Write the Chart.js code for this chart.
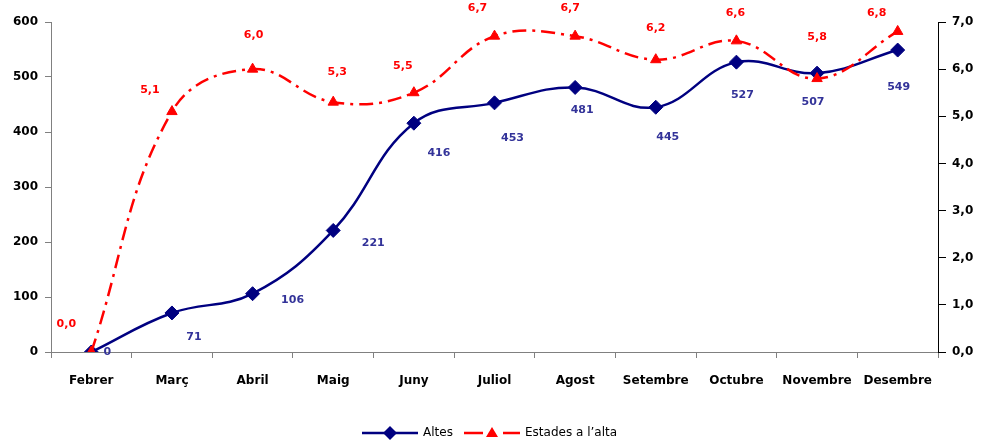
<!DOCTYPE html>
<html>
<head>
<meta charset="utf-8">
<script src="https://cdn.jsdelivr.net/npm/chart.js@4"></script>
<style>
    html, body { margin: 0; padding: 0; background: #fff; }
    canvas { display: block; }
</style>
</head>
<body>
<canvas id="altesChart" width="987" height="444"></canvas>
<script>
// Chart data
const months = ['Febrer', 'Març', 'Abril', 'Maig', 'Juny', 'Juliol', 'Agost', 'Setembre', 'Octubre', 'Novembre', 'Desembre'];
const altes = [0, 71, 106, 221, 416, 453, 481, 445, 527, 507, 549];
const estades = [0.0, 5.1, 6.0, 5.3, 5.5, 6.7, 6.7, 6.2, 6.6, 5.8, 6.8];

// Label nudges relative to each point (px), as placed in the original
const altesLabelOffsets = [[16, 0], [22, 24], [40, 6], [40, 13], [25, 30], [18, 35], [7, 23], [12, 30], [6, 33], [-4, 29], [1, 37]];
const estadesLabelOffsets = [[-25, -28], [-22, -21], [1, -34], [4, -30], [-11, -27], [-17, -28], [-5, -28], [0, -32], [-1, -28], [0, -41], [-21, -18]];

const NAVY = '#000080';
const RED = '#ff0000';
const FONT = "'DejaVu Sans', Verdana, sans-serif";

const commaFmt = v => Number(v).toFixed(1).replace('.', ',');

// Draws the value labels next to each point
const valueLabels = {
    id: 'valueLabels',
    afterDatasetsDraw(chart) {
        const ctx = chart.ctx;
        ctx.save();
        ctx.font = 'bold 11px ' + FONT;
        ctx.textAlign = 'center';
        ctx.textBaseline = 'middle';
        chart.data.datasets.forEach((ds, di) => {
            const meta = chart.getDatasetMeta(di);
            const offsets = ds.labelOffsets;
            ctx.fillStyle = ds.labelColor;
            meta.data.forEach((pt, i) => {
                const o = offsets[i] || [0, 0];
                ctx.fillText(ds.labelFormat(ds.data[i]), pt.x + o[0], pt.y + o[1]);
            });
        });
        ctx.restore();
    }
};

// Excel-like legend at the bottom
const bottomLegend = {
    id: 'bottomLegend',
    afterDraw(chart) {
        const ctx = chart.ctx;
        const y = 433;
        ctx.save();
        ctx.lineWidth = 2.5;

        ctx.strokeStyle = NAVY;
        ctx.beginPath();
        ctx.moveTo(362, y);
        ctx.lineTo(418, y);
        ctx.stroke();
        ctx.fillStyle = NAVY;
        ctx.beginPath();
        ctx.moveTo(390, y - 7); ctx.lineTo(397, y); ctx.lineTo(390, y + 7); ctx.lineTo(383, y);
        ctx.closePath();
        ctx.fill();

        ctx.strokeStyle = RED;
        ctx.beginPath();
        ctx.moveTo(464, y); ctx.lineTo(483, y);
        ctx.moveTo(503, y); ctx.lineTo(520, y);
        ctx.stroke();
        ctx.fillStyle = RED;
        ctx.beginPath();
        ctx.moveTo(492, y - 6); ctx.lineTo(498, y + 4); ctx.lineTo(486, y + 4);
        ctx.closePath();
        ctx.fill();

        ctx.fillStyle = '#000';
        ctx.font = '12px ' + FONT;
        ctx.textAlign = 'left';
        ctx.textBaseline = 'middle';
        ctx.fillText(chart.data.datasets[0].label, 423, y);
        ctx.fillText(chart.data.datasets[1].label, 525, y);
        ctx.restore();
    }
};

new Chart(document.getElementById('altesChart').getContext('2d'), {
    type: 'line',
    data: {
        labels: months,
        datasets: [
            {
                label: 'Altes',
                data: altes,
                yAxisID: 'y',
                order: 1,
                borderColor: NAVY,
                backgroundColor: NAVY,
                borderWidth: 2.5,
                tension: 0.4,
                pointStyle: 'rectRot',
                pointRadius: 7,
                pointBorderWidth: 1,
                pointBorderColor: NAVY,
                labelColor: '#333399',
                labelOffsets: altesLabelOffsets,
                labelFormat: v => String(v)
            },
            {
                label: 'Estades a l\u2019alta',
                data: estades,
                yAxisID: 'y1',
                order: 0,
                borderColor: RED,
                backgroundColor: RED,
                borderWidth: 2.5,
                borderDash: [14, 6, 3, 6],
                tension: 0.4,
                pointStyle: 'triangle',
                pointRadius: 6,
                pointBorderWidth: 1,
                pointBorderColor: RED,
                labelColor: RED,
                labelOffsets: estadesLabelOffsets,
                labelFormat: commaFmt
            }
        ]
    },
    options: {
        responsive: false,
        animation: false,
        devicePixelRatio: 1,
        layout: { padding: { top: 22, left: 0, right: 0, bottom: 0 } },
        plugins: {
            legend: { display: false },
            tooltip: { enabled: false }
        },
        scales: {
            x: {
                offset: true,
                grid: { display: true, drawOnChartArea: false, offset: true, tickLength: 6, color: '#808080' },
                border: { color: '#808080', width: 1 },
                ticks: { color: '#000', padding: 16, maxRotation: 0, autoSkip: false, font: { family: FONT, size: 12, weight: 'bold' } },
                afterFit: s => { s.height = 92; }
            },
            y: {
                position: 'left',
                min: 0,
                max: 600,
                ticks: { stepSize: 100, color: '#000', padding: 7, font: { family: FONT, size: 12, weight: 'bold' } },
                grid: { display: true, drawOnChartArea: false, tickLength: 6, color: '#808080' },
                border: { color: '#808080', width: 1 },
                afterFit: s => { s.width = 51; }
            },
            y1: {
                position: 'right',
                min: 0,
                max: 7,
                ticks: { stepSize: 1, color: '#000', padding: 6, callback: v => commaFmt(v), font: { family: FONT, size: 12, weight: 'bold' } },
                grid: { display: true, drawOnChartArea: false, tickLength: 8, color: '#000' },
                border: { color: '#000', width: 1 },
                afterFit: s => { s.width = 49; }
            }
        }
    },
    plugins: [valueLabels, bottomLegend]
});
</script>
</body>
</html>
